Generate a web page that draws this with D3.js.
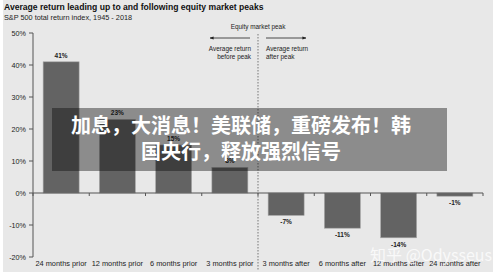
<!DOCTYPE html>
<html>
<head>
<meta charset="utf-8">
<script src="https://cdn.jsdelivr.net/npm/d3@7"></script>
<style>
  body { margin: 0; background: #fff; }
  svg { display: block; }
</style>
</head>
<body>
<div id="chart"></div>
<script>
// 數據
const categories = ["24 months prior", "12 months prior", "6 months prior", "3 months prior",
                    "3 months after", "6 months after", "12 months after", "24 months after"];
const values = [41, 23, 15, 8, -7, -11, -14, -1];
const yTicks = [-20, -10, 0, 10, 20, 30, 40, 50];
const titleText = "Average return leading up to and following equity market peaks";
const subtitleText = "S&P 500 total return index, 1945 - 2018";
const overlayLines = ["加息，大消息！美联储，重磅发布！韩", "国央行，释放强烈信号"];

const W = 500, H = 279;
const font = "'Liberation Sans', Arial, sans-serif";

const svg = d3.select("#chart").append("svg")
    .attr("width", W)
    .attr("height", H);

// 背景
svg.append("rect")
    .attr("x", 3).attr("y", 0)
    .attr("width", 490).attr("height", 272)
    .attr("fill", "#e8e8e8");

// 比例尺
const x = d3.scaleBand()
    .domain(categories)
    .range([33, 483])
    .paddingInner(0.36)
    .paddingOuter(0.18);

const y = d3.scaleLinear()
    .domain([-20, 50])
    .range([257, 33]);

// 標題
svg.append("text")
    .attr("x", 4).attr("y", 10)
    .style("font", `bold 8.6px ${font}`)
    .attr("fill", "#111")
    .text(titleText);

svg.append("text")
    .attr("x", 4).attr("y", 20)
    .style("font", `7.3px ${font}`)
    .attr("fill", "#222")
    .text(subtitleText);

// Y 軸
const yAxis = svg.append("g");
yAxis.append("line")
    .attr("x1", 33).attr("x2", 33)
    .attr("y1", y(50)).attr("y2", y(-20))
    .attr("stroke", "#555");
yAxis.selectAll(".ytick")
    .data(yTicks)
    .join("line")
    .attr("x1", 29).attr("x2", 33)
    .attr("y1", d => y(d)).attr("y2", d => y(d))
    .attr("stroke", "#555");
yAxis.selectAll(".ylabel")
    .data(yTicks)
    .join("text")
    .attr("x", 26)
    .attr("y", d => y(d))
    .attr("dy", "0.35em")
    .attr("text-anchor", "end")
    .style("font", `7.2px ${font}`)
    .attr("fill", "#222")
    .text(d => d + "%");

// 虛線 (市場高峰)
const peakX = x(categories[4]) - x.step() * x.paddingInner() / 2;
svg.append("line")
    .attr("x1", peakX).attr("x2", peakX)
    .attr("y1", 34).attr("y2", 270)
    .attr("stroke", "#777")
    .attr("stroke-dasharray", "1.5,1.5");

// 長條
svg.append("g")
    .selectAll("rect")
    .data(values)
    .join("rect")
    .attr("x", (d, i) => x(categories[i]))
    .attr("width", x.bandwidth())
    .attr("y", d => y(Math.max(0, d)))
    .attr("height", d => Math.abs(y(d) - y(0)))
    .attr("fill", "#636363")
    .attr("stroke", "#a8a8a8")
    .attr("stroke-width", 0.6);

// 數值標籤
svg.append("g")
    .selectAll("text")
    .data(values)
    .join("text")
    .attr("x", (d, i) => x(categories[i]) + x.bandwidth() / 2)
    .attr("y", d => d >= 0 ? y(d) - 4 : y(d) + 9)
    .attr("text-anchor", "middle")
    .style("font", `bold 6.5px ${font}`)
    .attr("fill", "#222")
    .text(d => d + "%");

// X 軸 (零線)
const xAxis = svg.append("g");
xAxis.append("line")
    .attr("x1", 33).attr("x2", 483)
    .attr("y1", y(0)).attr("y2", y(0))
    .attr("stroke", "#555");
xAxis.selectAll(".xtick")
    .data(d3.range(categories.length + 1))
    .join("line")
    .attr("x1", i => 33 + i * x.step())
    .attr("x2", i => 33 + i * x.step())
    .attr("y1", y(0)).attr("y2", y(0) + 3)
    .attr("stroke", "#555");

// 類別標籤
svg.append("g")
    .selectAll("text")
    .data(categories)
    .join("text")
    .attr("x", d => x(d) + x.bandwidth() / 2)
    .attr("y", 266)
    .attr("text-anchor", "middle")
    .style("font", `7.4px ${font}`)
    .attr("fill", "#222")
    .text(d => d);

// 註解
svg.append("text")
    .attr("x", peakX).attr("y", 29)
    .attr("text-anchor", "middle")
    .style("font", `6.4px ${font}`)
    .attr("fill", "#222")
    .text("Equity  market peak");

const defs = svg.append("defs");
defs.append("marker")
    .attr("id", "arrow")
    .attr("viewBox", "0 0 10 10")
    .attr("refX", 9).attr("refY", 5)
    .attr("markerWidth", 5).attr("markerHeight", 5)
    .attr("orient", "auto")
    .append("path")
    .attr("d", "M0,1 L10,5 L0,9 Z")
    .attr("fill", "#222");

svg.append("line")
    .attr("x1", peakX - 8).attr("x2", peakX - 48)
    .attr("y1", 38).attr("y2", 38)
    .attr("stroke", "#222").attr("stroke-width", 0.8)
    .attr("marker-end", "url(#arrow)");
svg.append("line")
    .attr("x1", peakX + 8).attr("x2", peakX + 48)
    .attr("y1", 38).attr("y2", 38)
    .attr("stroke", "#222").attr("stroke-width", 0.8)
    .attr("marker-end", "url(#arrow)");

const noteL = svg.append("text")
    .attr("text-anchor", "end")
    .style("font", `6.4px ${font}`)
    .attr("fill", "#222");
noteL.append("tspan").attr("x", peakX - 7).attr("y", 51).text("Average return");
noteL.append("tspan").attr("x", peakX - 7).attr("y", 59).text("before peak");

const noteR = svg.append("text")
    .attr("text-anchor", "start")
    .style("font", `6.4px ${font}`)
    .attr("fill", "#222");
noteR.append("tspan").attr("x", peakX + 8).attr("y", 51).text("Average return");
noteR.append("tspan").attr("x", peakX + 8).attr("y", 59).text("after peak");

// 浮水印
svg.append("text")
    .attr("x", 492).attr("y", 261)
    .attr("text-anchor", "end")
    .style("font", `16px 'Noto Sans CJK SC', sans-serif`)
    .attr("fill", "#fff")
    .attr("fill-opacity", 0.75)
    .text("知乎 @Odysseus");

// 疊加橫幅
svg.append("rect")
    .attr("x", 52).attr("y", 108)
    .attr("width", 395).attr("height", 63)
    .attr("fill", "#0c0c0c")
    .attr("fill-opacity", 0.42);

svg.append("g")
    .selectAll("text")
    .data(overlayLines)
    .join("text")
    .attr("x", 241)
    .attr("y", (d, i) => 126 + i * 26)
    .attr("dy", "0.36em")
    .attr("text-anchor", "middle")
    .style("font", `bold 20px 'Noto Sans CJK SC', sans-serif`)
    .attr("fill", "#fff")
    .text(d => d);
</script>
</body>
</html>
